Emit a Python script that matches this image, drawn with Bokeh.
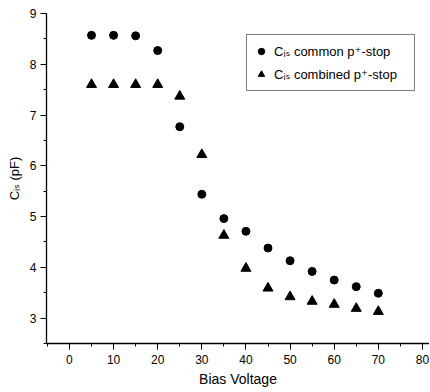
from bokeh.plotting import figure
from bokeh.models import SingleIntervalTicker, Range1d, Legend, LegendItem
from bokeh.embed import file_html
from bokeh.resources import INLINE

bias = [5, 10, 15, 20, 25, 30, 35, 40, 45, 50, 55, 60, 65, 70]
cis_common = [8.57, 8.57, 8.56, 8.27, 6.77, 5.44, 4.96, 4.71, 4.38, 4.13, 3.92, 3.75, 3.62, 3.49]
cis_combined = [7.60, 7.60, 7.60, 7.60, 7.37, 6.22, 4.63, 3.98, 3.59, 3.42, 3.33, 3.27, 3.19, 3.13]
label_common = "Cᵢₛ common p⁺-stop"
label_combined = "Cᵢₛ combined p⁺-stop"

FONT = "Liberation Sans, DejaVu Sans"

p = figure(width=429, height=390, output_backend="svg", toolbar_location=None,
           x_range=Range1d(-5.2, 81.6), y_range=Range1d(2.5, 9),
           min_border_left=46, min_border_top=13, min_border_right=0, min_border_bottom=47)
p.outline_line_color = None
p.grid.visible = False
p.background_fill_color = "white"

for ax in (p.xaxis[0], p.yaxis[0]):
    ax.axis_line_color = "black"
    ax.axis_line_width = 1.3
    ax.major_tick_in = 0
    ax.major_tick_out = 6
    ax.minor_tick_in = 0
    ax.minor_tick_out = 3
    ax.major_tick_line_color = "black"
    ax.minor_tick_line_color = "black"
    ax.major_label_text_font = FONT
    ax.major_label_text_font_size = "12px"
    ax.major_label_text_color = "black"
    ax.axis_label_text_font = FONT
    ax.axis_label_text_font_style = "normal"
    ax.axis_label_text_color = "black"

p.xaxis.ticker = SingleIntervalTicker(interval=10, num_minor_ticks=2)
p.yaxis.ticker = SingleIntervalTicker(interval=1, num_minor_ticks=2)
p.xaxis.axis_label = "Bias Voltage"
p.xaxis.axis_label_text_font_size = "14px"
p.xaxis.major_label_standoff = 5
p.xaxis.axis_label_standoff = 4
p.yaxis.axis_label = "Cᵢₛ (pF)"
p.yaxis.axis_label_text_font_size = "13px"
p.yaxis.major_label_standoff = 4
p.yaxis.axis_label_standoff = 5

r1 = p.scatter(bias, cis_common, marker="circle", size=8, color="black")
r2 = p.scatter(bias, cis_combined, marker="triangle", size=10, color="black")

legend = Legend(items=[LegendItem(label=label_common, renderers=[r1]),
                       LegendItem(label=label_combined, renderers=[r2])],
                location=(200, 252))
legend.border_line_color = "black"
legend.border_line_width = 1
legend.label_text_font = FONT
legend.label_text_font_size = "13px"
legend.label_text_color = "black"
legend.label_width = 134
legend.glyph_width = 16
legend.spacing = 3
legend.padding = 6
legend.margin = 0
legend.background_fill_alpha = 1
p.add_layout(legend, "center")

open("out.html", "w").write(file_html(p, INLINE))
